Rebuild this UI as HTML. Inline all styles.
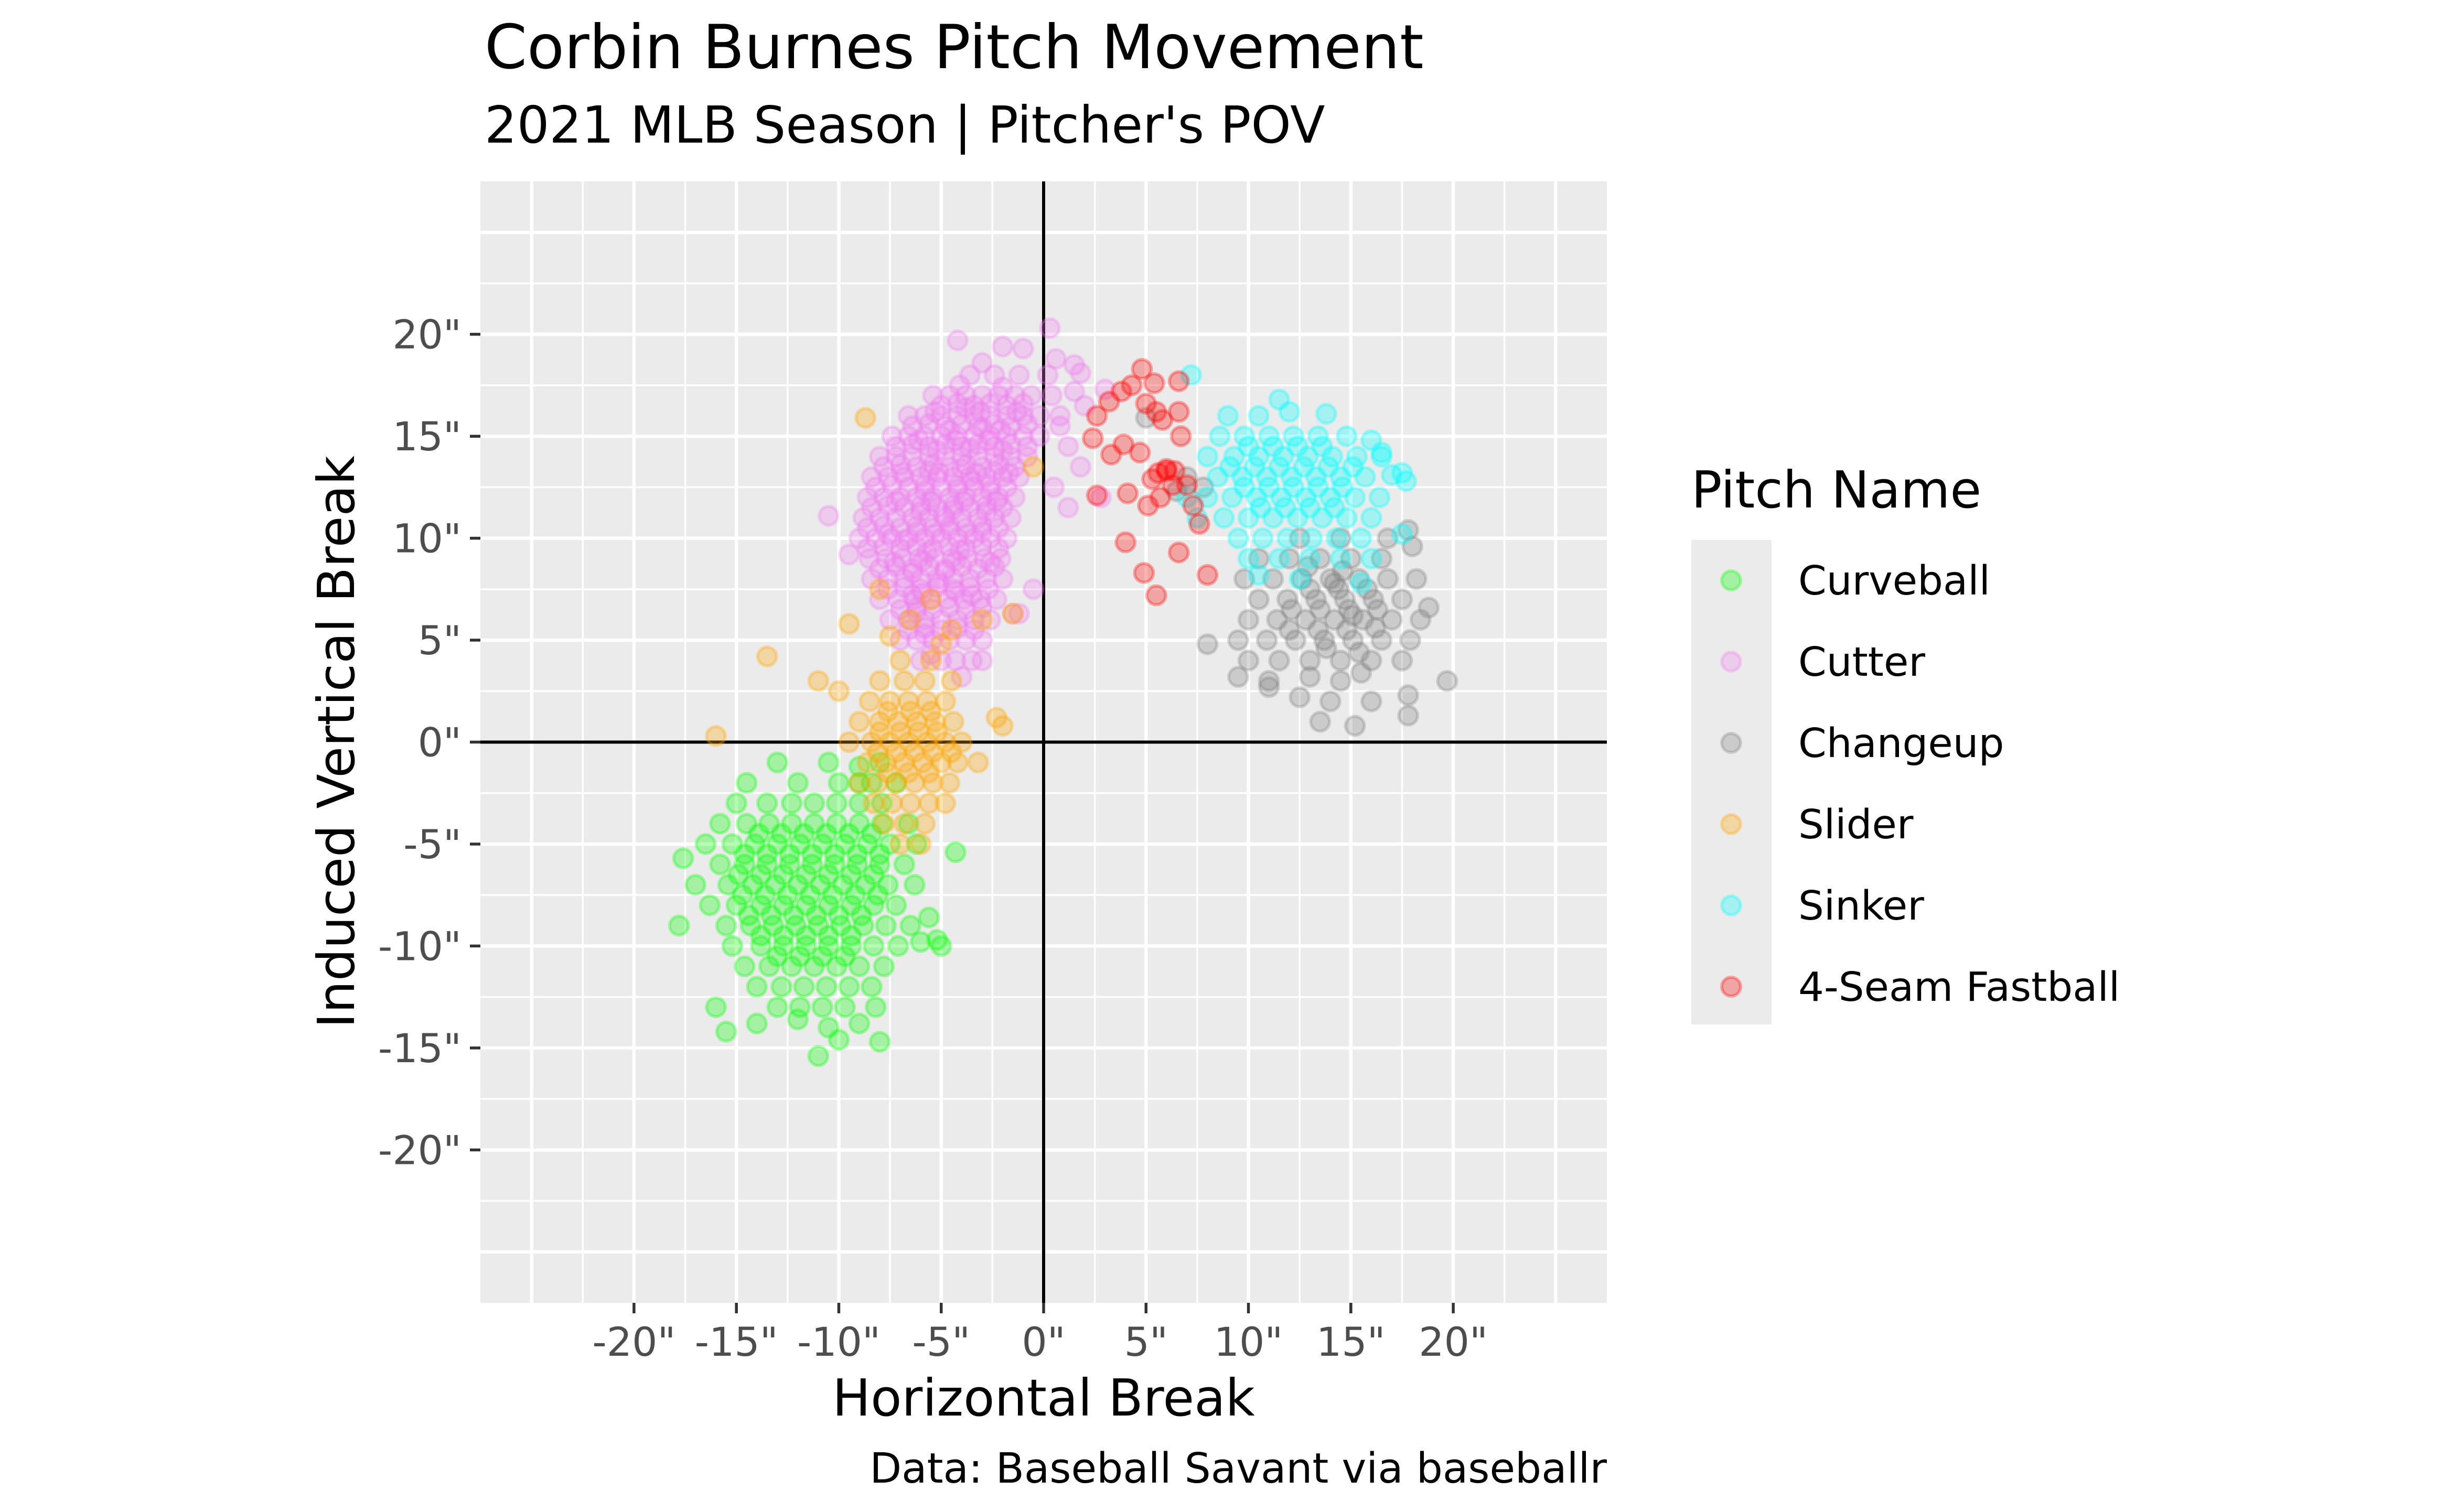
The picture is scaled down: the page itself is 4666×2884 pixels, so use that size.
<!DOCTYPE html>
<html><head><meta charset="utf-8">
<style>
html,body{margin:0;padding:0;background:#fff;}
svg{display:block;font-family:"DejaVu Sans","Liberation Sans",sans-serif;}
</style></head>
<body>
<svg id="chart" width="4666" height="2884" viewBox="0 0 4666 2884" xmlns="http://www.w3.org/2000/svg">
<rect x="0" y="0" width="4666" height="2884" fill="#fff"/>
<text x="924" y="130" font-size="116" fill="#000">Corbin Burnes Pitch Movement</text>
<text x="924" y="272" font-size="97" fill="#000">2021 MLB Season | Pitcher's POV</text>
<g id="panel"></g>
<g id="axes"></g>
<text x="1990" y="2700" font-size="97" text-anchor="middle" fill="#000">Horizontal Break</text>
<text x="0" y="0" font-size="97" text-anchor="middle" fill="#000" transform="translate(675,1415) rotate(-90)">Induced Vertical Break</text>
<text x="3064" y="2828" font-size="79" text-anchor="end" fill="#000">Data: Baseball Savant via baseballr</text>
<g id="legend"></g>
</svg>
<script>
const xTicks = [-20,-15,-10,-5,0,5,10,15,20];
const yTicks = [-20,-15,-10,-5,0,5,10,15,20];
const tickLabels = ['-20"','-15"','-10"','-5"','0"','5"','10"','15"','20"'];
const pitchNames = ["Curveball","Cutter","Changeup","Slider","Sinker","4-Seam Fastball"];
const pitchColors = ["#00ff00","#ee82ee","#808080","#ffa500","#00ffff","#ff0000"];

const cutter = [
[-6,4],[-5,4],[-4.3,4],[-3.5,4],[-5.5,4.3],
[-7,5],[-6.2,5],[-5.4,5],[-4.6,5],[-3.8,5],[-3,5],[-5.8,5.3],
[-7.5,6],[-6.6,6],[-5.8,6],[-5,6],[-4.2,6],[-3.4,6],[-2.6,6],[-1.2,6.3],[-6.2,6.4],
[-8,7],[-7.1,7],[-6.3,7],[-5.5,7],[-4.7,7],[-3.9,7],[-3.1,7],[-2.3,7],[-5.9,7.3],[-4.3,7.4],
[-8.4,8],[-7.6,8],[-6.8,8],[-6,8],[-5.2,8],[-4.4,8],[-3.6,8],[-2.8,8],[-2,8],[-6.4,8.3],[-4.8,8.4],
[-9.5,9.2],[-8.5,9],[-7.7,9],[-6.9,9],[-6.1,9],[-5.3,9],[-4.5,9],[-3.7,9],[-2.9,9],[-2.1,9],[-5.7,9.3],[-4.1,9.4],
[-9,10],[-8.2,10],[-7.4,10],[-6.6,10],[-5.8,10],[-5,10],[-4.2,10],[-3.4,10],[-2.6,10],[-1.8,10],[-6.2,10.3],[-4.6,10.4],[-3,10.3],
[-10.5,11.1],[-8.8,11],[-8,11],[-7.2,11],[-6.4,11],[-5.6,11],[-4.8,11],[-4,11],[-3.2,11],[-2.4,11],[-1.6,11],[-6,11.3],[-4.4,11.4],[-2.8,11.3],
[-8.6,12],[-7.8,12],[-7,12],[-6.2,12],[-5.4,12],[-4.6,12],[-3.8,12],[-3,12],[-2.2,12],[-1.4,12],[-5.8,12.3],[-4.2,12.4],[-2.6,12.3],
[-8.4,13],[-7.6,13],[-6.8,13],[-6,13],[-5.2,13],[-4.4,13],[-3.6,13],[-2.8,13],[-2,13],[-1.2,13],[-5.6,13.3],[-4,13.4],[-2.4,13.3],
[-8,14],[-7.2,14],[-6.4,14],[-5.6,14],[-4.8,14],[-4,14],[-3.2,14],[-2.4,14],[-1.6,14],[-0.8,14],[-5.2,14.3],[-3.6,14.4],[-2,14.3],
[-7.4,15],[-6.6,15],[-5.8,15],[-5,15],[-4.2,15],[-3.4,15],[-2.6,15],[-1.8,15],[-1,15],[-0.2,15],[-4.6,15.3],[-3,15.4],
[-6.6,16],[-5.8,16],[-5,16],[-4.2,16],[-3.4,16],[-2.6,16],[-1.8,16],[-1,16],[-0.2,16],[0.8,16],[-3.8,16.4],
[-5.4,17],[-4.6,17],[-3.8,17],[-3,17],[-2.2,17],[-1.4,17],[-0.6,17],[0.4,17],[1.5,17.2],
[-3.6,18],[-2.4,18],[-1.2,18],[0.2,18],[1.8,18.1],
[-6.6,5.5],[-5.8,5.6],[-5,5.5],[-4.2,5.6],[-3.4,5.5],
[-7,6.5],[-6.2,6.6],[-5.4,6.5],[-4.6,6.6],[-3.8,6.5],[-3,6.6],
[-7.6,7.5],[-6.8,7.6],[-6,7.5],[-5.2,7.6],[-4.4,7.5],[-3.6,7.6],[-2.7,7.5],
[-8,8.5],[-7.2,8.6],[-6.4,8.5],[-5.6,8.6],[-4.8,8.5],[-4,8.6],[-3.2,8.5],[-2.4,8.6],
[-8.6,9.5],[-7.8,9.6],[-7,9.5],[-6.2,9.6],[-5.4,9.5],[-4.6,9.6],[-3.8,9.5],[-3,9.6],[-2.2,9.5],
[-8.6,10.5],[-7.8,10.6],[-7,10.5],[-6.2,10.6],[-5.4,10.5],[-4.6,10.6],[-3.8,10.5],[-3,10.6],[-2.2,10.5],
[-8.4,11.5],[-7.6,11.6],[-6.8,11.5],[-6,11.6],[-5.2,11.5],[-4.4,11.6],[-3.6,11.5],[-2.8,11.6],[-2,11.5],
[-8.2,12.5],[-7.4,12.6],[-6.6,12.5],[-5.8,12.6],[-5,12.5],[-4.2,12.6],[-3.4,12.5],[-2.6,12.6],[-1.8,12.5],
[-7.8,13.5],[-7,13.6],[-6.2,13.5],[-5.4,13.6],[-4.6,13.5],[-3.8,13.6],[-3,13.5],[-2.2,13.6],[-1.4,13.5],
[-7.2,14.5],[-6.4,14.6],[-5.6,14.5],[-4.8,14.6],[-4,14.5],[-3.2,14.6],[-2.4,14.5],[-1.6,14.6],[-0.8,14.5],
[-6.4,15.5],[-5.6,15.6],[-4.8,15.5],[-4,15.6],[-3.2,15.5],[-2.4,15.6],[-1.6,15.5],[-0.8,15.6],
[-5,16.5],[-4.2,16.6],[-3.4,16.5],[-2.6,16.6],[-1.8,16.5],[-1,16.6],
[-6.4,7.2],[-5.1,7.8],[-3.5,7.2],[-7.3,8.8],[-5.9,8.9],[-4.3,8.9],[-2.6,8.8],[-7.6,10.2],[-5.3,10.2],[-3.7,10.2],
[-7.2,11.8],[-5.5,11.8],[-3.9,11.8],[-2.3,11.8],[-6.9,13.2],[-5.1,13.2],[-3.3,13.2],[-1.7,13.2],[-6.1,14.8],[-4.3,14.8],
[-2.7,14.8],[-5.3,16.2],[-3.1,16.2],[-1.3,16.2],[-4.1,17.5],[-2,17.4],[-6.8,9.9],[-4.9,11.1],[-3.5,12.8],[-2.1,15.3],
[0.3,20.3],[-4.2,19.7],[-2,19.4],[-1,19.3],[1.5,18.5],[2.8,12],[3,17.3],[0.5,12.5],[1.8,13.5],[0.8,15.5],[2,16.5],[1.2,14.5],[-0.5,7.5],[-1.5,6.3],[-3,4],[-4,3.2],[0.6,18.8],[-3,18.6],[1.2,11.5]
];
const curveball = [
[-13,-1],[-10.5,-1],[-9,-1.2],[-8,-1],
[-14.5,-2],[-12,-2],[-10,-2],[-9,-2],[-8.4,-2],[-7.2,-2],
[-15,-3],[-13.5,-3],[-12.3,-3],[-11.2,-3],[-10.1,-3],[-9,-3],[-7.9,-3],
[-15.8,-4],[-14.5,-4],[-13.4,-4],[-12.3,-4],[-11.2,-4],[-10.1,-4],[-9,-4],[-7.9,-4],[-6.6,-4],
[-16.5,-5],[-15.2,-5],[-14.1,-5],[-13,-5],[-11.9,-5],[-10.8,-5],[-9.7,-5],[-8.6,-5],[-7.5,-5],[-6.2,-5],[-4.3,-5.4],
[-17.6,-5.7],[-15.8,-6],[-14.6,-6],[-13.5,-6],[-12.4,-6],[-11.3,-6],[-10.2,-6],[-9.1,-6],[-8,-6],[-6.8,-6],
[-17,-7],[-15.4,-7],[-14.2,-7],[-13.1,-7],[-12,-7],[-10.9,-7],[-9.8,-7],[-8.7,-7],[-7.6,-7],[-6.3,-7],
[-16.3,-8],[-15,-8],[-13.8,-8],[-12.7,-8],[-11.6,-8],[-10.5,-8],[-9.4,-8],[-8.3,-8],[-7.2,-8],[-5.6,-8.6],
[-17.8,-9],[-15.5,-9],[-14.3,-9],[-13.2,-9],[-12.1,-9],[-11,-9],[-9.9,-9],[-8.8,-9],[-7.7,-9],[-6.5,-9],[-5.2,-9.7],
[-15.2,-10],[-13.8,-10],[-12.7,-10],[-11.6,-10],[-10.5,-10],[-9.4,-10],[-8.3,-10],[-7.1,-10],[-5,-10],[-6,-9.8],
[-14.6,-11],[-13.4,-11],[-12.3,-11],[-11.2,-11],[-10.1,-11],[-9,-11],[-7.8,-11],
[-14,-12],[-12.8,-12],[-11.7,-12],[-10.6,-12],[-9.5,-12],[-8.4,-12],
[-16,-13],[-13,-13],[-11.9,-13],[-10.8,-13],[-9.7,-13],[-8.2,-13],
[-15.5,-14.2],[-14,-13.8],[-12,-13.6],[-10.5,-14],[-9,-13.8],
[-11,-15.4],[-10,-14.6],[-8,-14.7],
[-13.9,-4.5],[-12.8,-4.5],[-11.7,-4.5],[-10.6,-4.5],[-9.5,-4.5],[-8.4,-4.5],
[-14.6,-5.5],[-13.5,-5.5],[-12.4,-5.5],[-11.3,-5.5],[-10.2,-5.5],[-9.1,-5.5],[-8,-5.5],
[-14.9,-6.5],[-13.8,-6.5],[-12.7,-6.5],[-11.6,-6.5],[-10.5,-6.5],[-9.4,-6.5],[-8.3,-6.5],
[-14.7,-7.5],[-13.6,-7.5],[-12.5,-7.5],[-11.4,-7.5],[-10.3,-7.5],[-9.2,-7.5],[-8.1,-7.5],
[-14.4,-8.5],[-13.3,-8.5],[-12.2,-8.5],[-11.1,-8.5],[-10,-8.5],[-8.9,-8.5],
[-13.8,-9.5],[-12.7,-9.5],[-11.6,-9.5],[-10.5,-9.5],[-9.4,-9.5],
[-13,-10.5],[-11.9,-10.5],[-10.8,-10.5],[-9.7,-10.5]
];
const slider = [
[-7,4],[-5.5,4],[-13.5,4.2],
[-8,3],[-6.8,3],[-5.8,3],[-4.5,3],[-11,3],
[-8.5,2],[-7.5,2],[-6.6,2],[-5.7,2],[-4.8,2],[-10,2.5],
[-9,1],[-8,1],[-7.1,1],[-6.2,1],[-5.3,1],[-4.4,1],[-2.3,1.2],
[-16,0.3],[-9.5,0],[-8.4,0],[-7.5,0],[-6.6,0],[-5.7,0],[-4.8,0],[-4,0],
[-8.6,-1],[-7.7,-1],[-6.8,-1],[-5.9,-1],[-5,-1],[-4.2,-1],[-3.2,-1],
[-9,-2],[-8.1,-2],[-7.2,-2],[-6.3,-2],[-5.4,-2],[-4.6,-2],
[-8.3,-3],[-7.4,-3],[-6.5,-3],[-5.6,-3],[-4.8,-3],
[-7.8,-4],[-6.8,-4],[-5.8,-4],
[-7,-5],[-6,-5],
[-8,0.5],[-7,0.5],[-6.1,0.5],[-5.2,0.5],[-8.1,-0.5],[-7.2,-0.5],[-6.3,-0.5],[-5.4,-0.5],[-4.5,-0.5],
[-7.6,-1.5],[-6.6,-1.5],[-5.6,-1.5],[-7.6,1.5],[-6.5,1.5],[-5.5,1.5],
[-8.7,15.9],[-4.5,5.5],[-1.5,6.3],[-3,6],[-5.5,7],[-9.5,5.8],[-8,7.5],[-6.5,6],[-5,4.8],[-0.5,13.5],[-2,0.8],[-7.5,5.2]
];
const changeup = [
[17.8,10.4],
[12.5,10],[14.5,10],[16.8,10],[18,9.6],
[10.5,9],[12,9],[13.5,9],[15,9],[16.5,9],
[9.8,8],[11.2,8],[12.6,8],[14,8],[15.4,8],[16.8,8],[18.2,8],
[10.5,7],[11.9,7],[13.3,7],[14.7,7],[16.1,7],[17.5,7],[18.8,6.6],
[10,6],[11.4,6],[12.8,6],[14.2,6],[15.6,6],[17,6],[18.4,6],
[9.5,5],[10.9,5],[12.3,5],[13.7,5],[15.1,5],[16.5,5],[17.9,5],
[10,4],[11.5,4],[13,4],[14.5,4],[16,4],[17.5,4],
[9.5,3.2],[11,3],[13,3.2],[14.5,3],[15.5,3.4],[19.7,3],
[12.5,2.2],[14,2],[16,2],[17.8,2.3],
[13.5,1],[17.8,1.3],
[8,4.8],[5,15.9],[7.8,12.5],[6.5,12.3],[7,13],[11,2.7],[15.2,0.8],
[12.1,6.5],[13.5,6.5],[14.9,6.5],[16.3,6.5],[12,5.5],[13.4,5.5],[14.8,5.5],[13,7.5],[14.4,7.5],[15.8,7.5],
[14.2,7.8],[15.1,6.2],[16.2,5.6],[13.8,4.6],[15.4,4.4],[12.9,8.6],[14.6,8.4]
];
const sinker = [
[9,16],[10.5,16],[12,16.2],[13.8,16.1],
[8.6,15],[9.8,15],[11,15],[12.2,15],[13.4,15],[14.8,15],[16,14.8],
[8,14],[9.3,14],[10.5,14],[11.7,14],[12.9,14],[14.1,14],[15.3,14],[16.5,14],[17.5,13.2],
[8.5,13],[9.7,13],[10.9,13],[12.1,13],[13.3,13],[14.5,13],[15.7,13],[17.7,12.8],
[8,12],[9.2,12],[10.4,12],[11.6,12],[12.8,12],[14,12],[15.2,12],[16.4,12],
[8.8,11],[10,11],[11.2,11],[12.4,11],[13.6,11],[14.8,11],[16,11],
[9.5,10],[10.7,10],[11.9,10],[13.1,10],[14.3,10],[15.5,10],[17.5,10.2],
[10,9],[11.5,9],[13,9],[14.5,9],[16,9],
[10.5,8.2],[12.5,8],[15.5,7.8],
[10,14.5],[11.2,14.5],[12.4,14.5],[13.6,14.5],
[9.1,13.5],[10.3,13.5],[11.5,13.5],[12.7,13.5],[13.9,13.5],[15.1,13.5],
[9.8,12.5],[11,12.5],[12.2,12.5],[13.4,12.5],[14.6,12.5],
[10.6,11.5],[11.8,11.5],[13,11.5],[14.2,11.5],
[7.2,18],[11.5,16.8],[16.5,14.2],[17,13.1],[7.5,11],[7,12]
];
const fastball = [
[4.8,18.3],[4.3,17.5],[3.8,17.2],[3.2,16.7],[5.4,17.6],[6.6,17.7],[5,16.6],[5.5,16.2],[5.8,15.8],[6.6,16.2],
[2.6,16],[2.4,14.9],[3.9,14.6],[4.7,14.2],[6,13.4],[5.6,13.2],[6.3,12.6],[5.7,12],[5.1,11.6],[4.1,12.2],
[5.3,12.9],[7,12.6],[7.3,11.6],[7.6,10.7],[6.6,9.3],[4,9.8],[4.9,8.3],[5.5,7.2],[8,8.2],[6.7,15],
[6,13.3],[6.4,13.3],[3.3,14.1],[2.6,12.1]
];
const seriesData = [curveball, cutter, changeup, slider, sinker, fastball];
const drawOrder = [1,0,3,2,4,5];

const NS = "http://www.w3.org/2000/svg";
const PX0 = 916, PX1 = 3064, PY0 = 346, PY1 = 2485;
const LIM = 27.5;
function sx(v){ return PX0 + (v + LIM) / (2*LIM) * (PX1 - PX0); }
function sy(v){ return PY1 - (v + LIM) / (2*LIM) * (PY1 - PY0); }
function mk(tag, attrs, parent){
  const e = document.createElementNS(NS, tag);
  for (const k in attrs) e.setAttribute(k, attrs[k]);
  parent.appendChild(e);
  return e;
}
const panel = document.getElementById('panel');
const bg = mk('rect', {x:PX0, y:PY0, width:PX1-PX0, height:PY1-PY0, fill:'#ebebeb'}, panel);


for (let v = -22.5; v <= 22.5; v += 5) {
  const a = mk('line', {x1:sx(v), x2:sx(v), y1:PY0, y2:PY1, stroke:'#fff', 'stroke-width':3.5}, panel);
  
  
  const b = mk('line', {x1:PX0, x2:PX1, y1:sy(v), y2:sy(v), stroke:'#fff', 'stroke-width':3.5}, panel);
  
  
}
for (let v = -25; v <= 25; v += 5) {
  const a = mk('line', {x1:sx(v), x2:sx(v), y1:PY0, y2:PY1, stroke:'#fff', 'stroke-width':6.5}, panel);
  
  
  const b = mk('line', {x1:PX0, x2:PX1, y1:sy(v), y2:sy(v), stroke:'#fff', 'stroke-width':6.5}, panel);
  
  
}
const hz = mk('line', {x1:PX0, x2:PX1, y1:sy(0), y2:sy(0), stroke:'#000', 'stroke-width':6}, panel);


const vz = mk('line', {x1:sx(0), x2:sx(0), y1:PY0, y2:PY1, stroke:'#000', 'stroke-width':6}, panel);



drawOrder.forEach(function(si){
  const g = mk('g', {}, panel);
  
  
  seriesData[si].forEach(function(p){
    const c = mk('circle', {cx:sx(p[0]), cy:sy(p[1]), r:18, fill:pitchColors[si], 'fill-opacity':0.3, stroke:pitchColors[si], 'stroke-opacity':0.3, 'stroke-width':6}, g);
    
    
  });
});

const axes = document.getElementById('axes');
xTicks.forEach(function(v, i){
  const t = mk('line', {x1:sx(v), x2:sx(v), y1:PY1, y2:PY1+20, stroke:'#333', 'stroke-width':5.5}, axes);
  
  
  const l = mk('text', {x:sx(v), y:2586, 'font-size':76, 'text-anchor':'middle', fill:'#4d4d4d'}, axes);
  l.textContent = tickLabels[i];
  
  
});
yTicks.forEach(function(v, i){
  const t = mk('line', {x1:PX0-20, x2:PX0, y1:sy(v), y2:sy(v), stroke:'#333', 'stroke-width':5.5}, axes);
  
  
  const l = mk('text', {x:880, y:sy(v)+27, 'font-size':76, 'text-anchor':'end', fill:'#4d4d4d'}, axes);
  l.textContent = tickLabels[i];
  
  
});

const legend = document.getElementById('legend');
const lt = mk('text', {x:3225, y:968, 'font-size':97, fill:'#000'}, legend);
lt.textContent = 'Pitch Name';


const lbg = mk('rect', {x:3225, y:1030, width:153, height:924, fill:'#ebebeb'}, legend);


pitchNames.forEach(function(n, i){
  const cy = 1107 + i*155;
  const g = mk('g', {}, legend);
  
  
  const c = mk('circle', {cx:3301, cy:cy, r:18, fill:pitchColors[i], 'fill-opacity':0.3, stroke:pitchColors[i], 'stroke-opacity':0.3, 'stroke-width':6}, g);
  
  
  const t = mk('text', {x:3429, y:cy+27, 'font-size':77, fill:'#000'}, g);
  t.textContent = n;
  
  
});
</script>
</body></html>
